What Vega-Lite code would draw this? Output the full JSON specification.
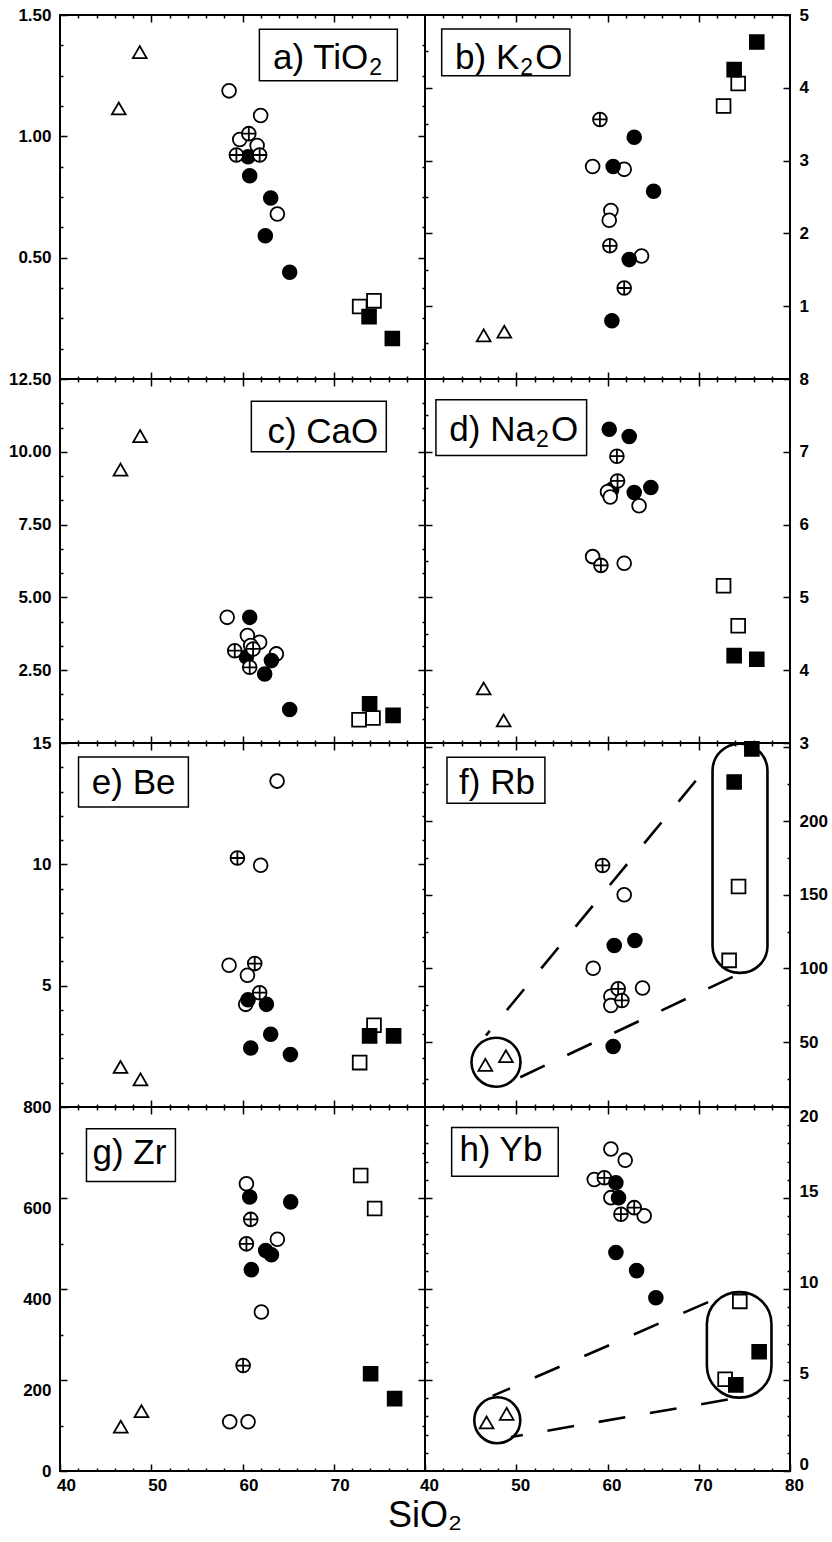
{
"$schema":"https://vega.github.io/schema/vega-lite/v6.json",
"padding":{"left":7,"top":5,"right":0,"bottom":0},
"background":"white",
"title":{"text":"SiO₂","orient":"bottom","anchor":"middle","fontSize":36,"fontWeight":"normal","font":"Liberation Sans","color":"black","offset":1,"dx":7},
"config":{
 "font":"Liberation Sans",
 "view":{"stroke":"black","strokeWidth":2},
 "axis":{"labelFont":"Liberation Sans","labelFontSize":17,"labelFontWeight":"bold","labelColor":"black","tickColor":"black","tickWidth":1.5,"domain":false,"grid":false,"labelPadding":16,"labelFlush":false,"labelOverlap":false}
},
"datasets":{"pts":[
{"p":"a","x":46.44,"y":1.115,"t":"tri"},{"p":"a","x":48.74,"y":1.347,"t":"tri"},
{"p":"a","x":58.53,"y":1.1875,"t":"oc"},{"p":"a","x":61.99,"y":1.086,"t":"oc"},{"p":"a","x":63.82,"y":0.68,"t":"oc"},{"p":"a","x":59.7,"y":0.987,"t":"oc"},{"p":"a","x":61.6,"y":0.962,"t":"oc"},
{"p":"a","x":60.61,"y":0.916,"t":"fc"},{"p":"a","x":60.79,"y":0.8375,"t":"fc"},{"p":"a","x":63.09,"y":0.746,"t":"fc"},{"p":"a","x":62.5,"y":0.59,"t":"fc"},{"p":"a","x":65.17,"y":0.44,"t":"fc"},
{"p":"a","x":60.69,"y":1.011,"t":"pc"},{"p":"a","x":59.33,"y":0.923,"t":"pc"},{"p":"a","x":61.88,"y":0.923,"t":"pc"},
{"p":"a","x":72.84,"y":0.299,"t":"os"},{"p":"a","x":74.41,"y":0.322,"t":"os"},
{"p":"a","x":73.87,"y":0.257,"t":"fs"},{"p":"a","x":76.42,"y":0.167,"t":"fs"},

{"p":"b","x":46.43,"y":0.6,"t":"tri"},{"p":"b","x":48.69,"y":0.65,"t":"tri"},
{"p":"b","x":58.37,"y":2.92,"t":"oc"},{"p":"b","x":61.83,"y":2.88,"t":"oc"},{"p":"b","x":60.37,"y":2.315,"t":"oc"},{"p":"b","x":60.19,"y":2.18,"t":"oc"},{"p":"b","x":63.73,"y":1.69,"t":"oc"},
{"p":"b","x":62.93,"y":3.32,"t":"fc"},{"p":"b","x":60.62,"y":2.92,"t":"fc"},{"p":"b","x":65.05,"y":2.58,"t":"fc"},{"p":"b","x":62.38,"y":1.64,"t":"fc"},{"p":"b","x":60.48,"y":0.8,"t":"fc"},
{"p":"b","x":59.17,"y":3.565,"t":"pc"},{"p":"b","x":60.26,"y":1.83,"t":"pc"},{"p":"b","x":61.83,"y":1.25,"t":"pc"},
{"p":"b","x":72.72,"y":3.75,"t":"os"},{"p":"b","x":74.32,"y":4.06,"t":"os"},
{"p":"b","x":73.88,"y":4.25,"t":"fs"},{"p":"b","x":76.36,"y":4.63,"t":"fs"},

{"p":"c","x":46.63,"y":9.39,"t":"tri"},{"p":"c","x":48.78,"y":10.54,"t":"tri"},
{"p":"c","x":58.32,"y":4.315,"t":"oc"},{"p":"c","x":60.54,"y":3.69,"t":"oc"},{"p":"c","x":61.88,"y":3.46,"t":"oc"},{"p":"c","x":63.71,"y":3.06,"t":"oc"},{"p":"c","x":60.9,"y":3.35,"t":"oc"},
{"p":"c","x":60.79,"y":4.315,"t":"fc"},{"p":"c","x":60.43,"y":2.95,"t":"fc"},{"p":"c","x":63.17,"y":2.83,"t":"fc"},{"p":"c","x":62.43,"y":2.37,"t":"fc"},{"p":"c","x":65.17,"y":1.15,"t":"fc"},
{"p":"c","x":59.15,"y":3.17,"t":"pc"},{"p":"c","x":61.16,"y":3.23,"t":"pc"},{"p":"c","x":60.79,"y":2.6,"t":"pc"},
{"p":"c","x":72.77,"y":0.8,"t":"os"},{"p":"c","x":74.3,"y":0.86,"t":"os"},
{"p":"c","x":73.93,"y":1.35,"t":"fs"},{"p":"c","x":76.5,"y":0.95,"t":"fs"},

{"p":"d","x":46.43,"y":3.75,"t":"tri"},{"p":"d","x":48.62,"y":3.31,"t":"tri"},
{"p":"d","x":60.45,"y":6.48,"t":"fc"},{"p":"d","x":60.19,"y":7.31,"t":"fc"},{"p":"d","x":62.38,"y":7.21,"t":"fc"},{"p":"d","x":62.93,"y":6.44,"t":"fc"},{"p":"d","x":64.75,"y":6.51,"t":"fc"},
{"p":"d","x":60.0,"y":6.45,"t":"oc"},{"p":"d","x":60.3,"y":6.38,"t":"oc"},{"p":"d","x":63.46,"y":6.26,"t":"oc"},{"p":"d","x":58.37,"y":5.56,"t":"oc"},{"p":"d","x":61.83,"y":5.47,"t":"oc"},
{"p":"d","x":61.03,"y":6.94,"t":"pc"},{"p":"d","x":61.1,"y":6.6,"t":"pc"},{"p":"d","x":59.28,"y":5.44,"t":"pc"},
{"p":"d","x":72.72,"y":5.16,"t":"os"},{"p":"d","x":74.32,"y":4.61,"t":"os"},
{"p":"d","x":73.88,"y":4.2,"t":"fs"},{"p":"d","x":76.36,"y":4.15,"t":"fs"},

{"p":"e","x":46.63,"y":1.65,"t":"tri"},{"p":"e","x":48.82,"y":1.14,"t":"tri"},
{"p":"e","x":63.79,"y":13.43,"t":"oc"},{"p":"e","x":61.99,"y":9.96,"t":"oc"},{"p":"e","x":58.53,"y":5.84,"t":"oc"},{"p":"e","x":60.54,"y":5.43,"t":"oc"},{"p":"e","x":60.35,"y":4.23,"t":"oc"},
{"p":"e","x":60.61,"y":4.42,"t":"fc"},{"p":"e","x":62.62,"y":4.23,"t":"fc"},{"p":"e","x":63.09,"y":3.0,"t":"fc"},{"p":"e","x":60.9,"y":2.43,"t":"fc"},{"p":"e","x":65.25,"y":2.16,"t":"fc"},
{"p":"e","x":59.44,"y":10.26,"t":"pc"},{"p":"e","x":61.34,"y":5.91,"t":"pc"},{"p":"e","x":61.88,"y":4.71,"t":"pc"},
{"p":"e","x":74.41,"y":3.37,"t":"os"},{"p":"e","x":72.84,"y":1.83,"t":"os"},
{"p":"e","x":73.93,"y":2.93,"t":"fs"},{"p":"e","x":76.56,"y":2.93,"t":"fs"},

{"p":"f","x":46.61,"y":34.6,"t":"tri"},{"p":"f","x":48.87,"y":40.5,"t":"tri"},
{"p":"f","x":61.83,"y":150,"t":"oc"},{"p":"f","x":58.43,"y":100.2,"t":"oc"},{"p":"f","x":63.84,"y":86.7,"t":"oc"},{"p":"f","x":60.37,"y":81.2,"t":"oc"},{"p":"f","x":60.37,"y":74.9,"t":"oc"},
{"p":"f","x":60.74,"y":115.6,"t":"fc"},{"p":"f","x":63.0,"y":119,"t":"fc"},{"p":"f","x":60.62,"y":47.1,"t":"fc"},
{"p":"f","x":59.46,"y":169.9,"t":"pc"},{"p":"f","x":61.17,"y":86.2,"t":"pc"},{"p":"f","x":61.58,"y":78.3,"t":"pc"},
{"p":"f","x":74.36,"y":155.6,"t":"os"},{"p":"f","x":73.33,"y":105.5,"t":"os"},
{"p":"f","x":73.88,"y":226.5,"t":"fs"},{"p":"f","x":75.82,"y":249,"t":"fs"},

{"p":"g","x":46.66,"y":97.4,"t":"tri"},{"p":"g","x":48.93,"y":131.5,"t":"tri"},
{"p":"g","x":60.43,"y":631.5,"t":"oc"},{"p":"g","x":63.82,"y":509.4,"t":"oc"},{"p":"g","x":62.07,"y":349.5,"t":"oc"},{"p":"g","x":58.6,"y":108.3,"t":"oc"},{"p":"g","x":60.61,"y":108.3,"t":"oc"},
{"p":"g","x":60.79,"y":602.3,"t":"fc"},{"p":"g","x":65.28,"y":591.4,"t":"fc"},{"p":"g","x":62.54,"y":484.6,"t":"fc"},{"p":"g","x":63.17,"y":475.2,"t":"fc"},{"p":"g","x":60.97,"y":442.5,"t":"fc"},
{"p":"g","x":60.9,"y":553,"t":"pc"},{"p":"g","x":60.43,"y":499.2,"t":"pc"},{"p":"g","x":60.07,"y":231.7,"t":"pc"},
{"p":"g","x":72.95,"y":649.6,"t":"os"},{"p":"g","x":74.48,"y":577,"t":"os"},
{"p":"g","x":74.04,"y":213.6,"t":"fs"},{"p":"g","x":76.67,"y":159.1,"t":"fs"},

{"p":"h","x":46.75,"y":2.67,"t":"tri"},{"p":"h","x":48.95,"y":3.14,"t":"tri"},
{"p":"h","x":60.37,"y":17.69,"t":"oc"},{"p":"h","x":61.94,"y":17.08,"t":"oc"},{"p":"h","x":58.55,"y":16.02,"t":"oc"},{"p":"h","x":60.37,"y":15.02,"t":"oc"},{"p":"h","x":64.02,"y":14.02,"t":"oc"},
{"p":"h","x":59.65,"y":16.11,"t":"pc"},{"p":"h","x":62.93,"y":14.47,"t":"pc"},{"p":"h","x":61.47,"y":14.11,"t":"pc"},
{"p":"h","x":60.92,"y":15.84,"t":"fc"},{"p":"h","x":61.21,"y":15.02,"t":"fc"},{"p":"h","x":60.92,"y":12.01,"t":"fc"},{"p":"h","x":63.19,"y":11.01,"t":"fc"},{"p":"h","x":65.3,"y":9.52,"t":"fc"},
{"p":"h","x":74.5,"y":9.32,"t":"os"},{"p":"h","x":72.89,"y":5.04,"t":"os"},
{"p":"h","x":76.62,"y":6.55,"t":"fs"},{"p":"h","x":74.06,"y":4.73,"t":"fs"}
]},
"columns":2,
"spacing":0,
"bounds":"flush",
"resolve":{"scale":{"x":"independent","y":"independent"}},
"concat":[
{
 "width":365,"height":364,
 "data":{"name":"pts"},"transform":[{"filter":"datum.p==='a'"}],
 "resolve":{"axis":{"x":"independent","y":"independent"}},
 "layer":[
  {"mark":{"type":"point","opacity":0},
   "encoding":{
    "x":{"field":"x","type":"quantitative","scale":{"domain":[40,80],"nice":false,"zero":false},"axis":{"orient":"top","title":null,"labels":false,"values":[42,44,46,48,50,52,54,56,58,60,62,64,66,68,70,72,74,76,78],"tickSize":{"condition":{"test":"datum.value % 10 === 0","value":-7},"value":-3}}},
    "y":{"field":"y","type":"quantitative","scale":{"domain":[0,1.5],"nice":false,"zero":false},"axis":{"orient":"right","title":null,"labels":false,"values":[0.125,0.25,0.375,0.5,0.625,0.75,0.875,1,1.125,1.25,1.375],"tickSize":{"condition":{"test":"abs(datum.value*2-round(datum.value*2))<0.001","value":-7},"value":-3}}}
   }},
  {"mark":{"type":"point","filled":true,"size":190,"stroke":"black","strokeWidth":1.8,"opacity":1},
   "encoding":{
    "x":{"field":"x","type":"quantitative","scale":{"domain":[40,80],"nice":false,"zero":false},"axis":{"orient":"bottom","title":null,"labels":false,"values":[42,44,46,48,50,52,54,56,58,60,62,64,66,68,70,72,74,76,78],"tickSize":{"condition":{"test":"datum.value % 10 === 0","value":-7},"value":-3}}},
    "y":{"field":"y","type":"quantitative","scale":{"domain":[0,1.5],"nice":false,"zero":false},"axis":{"orient":"left","title":null,"format":".2f","values":[0.125,0.25,0.375,0.5,0.625,0.75,0.875,1,1.125,1.25,1.375,1.5],"labelExpr":"abs(datum.value*2-round(datum.value*2))<0.001 ? datum.label : ''","tickSize":{"condition":{"test":"abs(datum.value*2-round(datum.value*2))<0.001","value":-7},"value":-3}}},
    "shape":{"field":"t","type":"nominal","legend":null,"scale":{"domain":["tri","oc","pc","fc","os","fs"],"range":["triangle-up","circle","M-1,0A1,1,0,1,0,1,0A1,1,0,1,0,-1,0ZM-1,0L1,0M0,-1L0,1","circle","square","square"]}},
    "fill":{"field":"t","type":"nominal","legend":null,"scale":{"domain":["tri","oc","pc","fc","os","fs"],"range":["white","white","white","black","white","black"]}}
   }},
  {"data":{"values":[{}]},"mark":{"type":"rect","fill":"white","stroke":"black","strokeWidth":1.5},
   "encoding":{"x":{"datum":61.85,"type":"quantitative","axis":null},"x2":{"datum":76.97},"y":{"datum":1.4417,"type":"quantitative","axis":null},"y2":{"datum":1.229}}},
  {"data":{"values":[{}]},"mark":{"type":"text","text":"a) TiO","fontSize":35,"align":"right","baseline":"alphabetic","color":"black"},
   "encoding":{"x":{"datum":73.79,"type":"quantitative","axis":null},"y":{"datum":1.278,"type":"quantitative","axis":null}}},
  {"data":{"values":[{}]},"mark":{"type":"text","text":"2","fontSize":23,"align":"left","baseline":"alphabetic","dx":1,"dy":6,"color":"black"},
   "encoding":{"x":{"datum":73.79,"type":"quantitative","axis":null},"y":{"datum":1.278,"type":"quantitative","axis":null}}}
 ]
},
{
 "width":365,"height":364,
 "data":{"name":"pts"},"transform":[{"filter":"datum.p==='b'"}],
 "resolve":{"axis":{"x":"independent","y":"independent"}},
 "layer":[
  {"mark":{"type":"point","opacity":0},
   "encoding":{
    "x":{"field":"x","type":"quantitative","scale":{"domain":[40,80],"nice":false,"zero":false},"axis":{"orient":"top","title":null,"labels":false,"values":[42,44,46,48,50,52,54,56,58,60,62,64,66,68,70,72,74,76,78],"tickSize":{"condition":{"test":"datum.value % 10 === 0","value":-7},"value":-3}}},
    "y":{"field":"y","type":"quantitative","scale":{"domain":[0,5],"nice":false,"zero":false},"axis":{"orient":"left","title":null,"labels":false,"values":[0.5,1,1.5,2,2.5,3,3.5,4,4.5],"tickSize":{"condition":{"test":"abs(datum.value-round(datum.value))<0.001","value":-7},"value":-3}}}
   }},
  {"mark":{"type":"point","filled":true,"size":190,"stroke":"black","strokeWidth":1.8,"opacity":1},
   "encoding":{
    "x":{"field":"x","type":"quantitative","scale":{"domain":[40,80],"nice":false,"zero":false},"axis":{"orient":"bottom","title":null,"labels":false,"values":[42,44,46,48,50,52,54,56,58,60,62,64,66,68,70,72,74,76,78],"tickSize":{"condition":{"test":"datum.value % 10 === 0","value":-7},"value":-3}}},
    "y":{"field":"y","type":"quantitative","scale":{"domain":[0,5],"nice":false,"zero":false},"axis":{"orient":"right","title":null,"values":[1,2,3,4,5],"tickSize":-7,"labels":true}},
    "shape":{"field":"t","type":"nominal","legend":null,"scale":{"domain":["tri","oc","pc","fc","os","fs"],"range":["triangle-up","circle","M-1,0A1,1,0,1,0,1,0A1,1,0,1,0,-1,0ZM-1,0L1,0M0,-1L0,1","circle","square","square"]}},
    "fill":{"field":"t","type":"nominal","legend":null,"scale":{"domain":["tri","oc","pc","fc","os","fs"],"range":["white","white","white","black","white","black"]}}
   }},
  {"data":{"values":[{}]},"mark":{"type":"rect","fill":"white","stroke":"black","strokeWidth":1.5},
   "encoding":{"x":{"datum":41.83,"type":"quantitative","axis":null},"x2":{"datum":55.88},"y":{"datum":4.806,"type":"quantitative","axis":null},"y2":{"datum":4.167}}},
  {"data":{"values":[{}]},"mark":{"type":"text","text":"b) K","fontSize":35,"align":"right","baseline":"alphabetic","color":"black"},
   "encoding":{"x":{"datum":50.33,"type":"quantitative","axis":null},"y":{"datum":4.26,"type":"quantitative","axis":null}}},
  {"data":{"values":[{}]},"mark":{"type":"text","text":"2","fontSize":23,"align":"left","baseline":"alphabetic","dx":1,"dy":6,"color":"black"},
   "encoding":{"x":{"datum":50.33,"type":"quantitative","axis":null},"y":{"datum":4.26,"type":"quantitative","axis":null}}},
  {"data":{"values":[{}]},"mark":{"type":"text","text":"O","fontSize":35,"align":"left","baseline":"alphabetic","dx":16,"color":"black"},
   "encoding":{"x":{"datum":50.33,"type":"quantitative","axis":null},"y":{"datum":4.26,"type":"quantitative","axis":null}}}
 ]
},
{
 "width":365,"height":364,
 "data":{"name":"pts"},"transform":[{"filter":"datum.p==='c'"}],
 "resolve":{"axis":{"x":"independent","y":"independent"}},
 "layer":[
  {"mark":{"type":"point","opacity":0},
   "encoding":{
    "x":{"field":"x","type":"quantitative","scale":{"domain":[40,80],"nice":false,"zero":false},"axis":{"orient":"top","title":null,"labels":false,"values":[42,44,46,48,50,52,54,56,58,60,62,64,66,68,70,72,74,76,78],"tickSize":{"condition":{"test":"datum.value % 10 === 0","value":-7},"value":-3}}},
    "y":{"field":"y","type":"quantitative","scale":{"domain":[0,12.5],"nice":false,"zero":false},"axis":{"orient":"right","title":null,"labels":false,"values":[0.8333,1.6667,2.5,3.3333,4.1667,5,5.8333,6.6667,7.5,8.3333,9.1667,10,10.8333,11.6667],"tickSize":{"condition":{"test":"abs(datum.value/2.5-round(datum.value/2.5))<0.001","value":-7},"value":-3}}}
   }},
  {"mark":{"type":"point","filled":true,"size":190,"stroke":"black","strokeWidth":1.8,"opacity":1},
   "encoding":{
    "x":{"field":"x","type":"quantitative","scale":{"domain":[40,80],"nice":false,"zero":false},"axis":{"orient":"bottom","title":null,"labels":false,"values":[42,44,46,48,50,52,54,56,58,60,62,64,66,68,70,72,74,76,78],"tickSize":{"condition":{"test":"datum.value % 10 === 0","value":-7},"value":-3}}},
    "y":{"field":"y","type":"quantitative","scale":{"domain":[0,12.5],"nice":false,"zero":false},"axis":{"orient":"left","title":null,"format":".2f","values":[0.8333,1.6667,2.5,3.3333,4.1667,5,5.8333,6.6667,7.5,8.3333,9.1667,10,10.8333,11.6667,12.5],"labelExpr":"abs(datum.value/2.5-round(datum.value/2.5))<0.001 ? datum.label : ''","tickSize":{"condition":{"test":"abs(datum.value/2.5-round(datum.value/2.5))<0.001","value":-7},"value":-3}}},
    "shape":{"field":"t","type":"nominal","legend":null,"scale":{"domain":["tri","oc","pc","fc","os","fs"],"range":["triangle-up","circle","M-1,0A1,1,0,1,0,1,0A1,1,0,1,0,-1,0ZM-1,0L1,0M0,-1L0,1","circle","square","square"]}},
    "fill":{"field":"t","type":"nominal","legend":null,"scale":{"domain":["tri","oc","pc","fc","os","fs"],"range":["white","white","white","black","white","black"]}}
   }},
  {"data":{"values":[{}]},"mark":{"type":"rect","fill":"white","stroke":"black","strokeWidth":1.5},
   "encoding":{"x":{"datum":60.97,"type":"quantitative","axis":null},"x2":{"datum":75.76},"y":{"datum":11.736,"type":"quantitative","axis":null},"y2":{"datum":10.0}}},
  {"data":{"values":[{}]},"mark":{"type":"text","text":"c) CaO","fontSize":35,"align":"center","baseline":"alphabetic","color":"black"},
   "encoding":{"x":{"datum":68.8,"type":"quantitative","axis":null},"y":{"datum":10.31,"type":"quantitative","axis":null}}}
 ]
},
{
 "width":365,"height":364,
 "data":{"name":"pts"},"transform":[{"filter":"datum.p==='d'"}],
 "resolve":{"axis":{"x":"independent","y":"independent"}},
 "layer":[
  {"mark":{"type":"point","opacity":0},
   "encoding":{
    "x":{"field":"x","type":"quantitative","scale":{"domain":[40,80],"nice":false,"zero":false},"axis":{"orient":"top","title":null,"labels":false,"values":[42,44,46,48,50,52,54,56,58,60,62,64,66,68,70,72,74,76,78],"tickSize":{"condition":{"test":"datum.value % 10 === 0","value":-7},"value":-3}}},
    "y":{"field":"y","type":"quantitative","scale":{"domain":[3,8],"nice":false,"zero":false},"axis":{"orient":"left","title":null,"labels":false,"values":[3.5,4,4.5,5,5.5,6,6.5,7,7.5],"tickSize":{"condition":{"test":"abs(datum.value-round(datum.value))<0.001","value":-7},"value":-3}}}
   }},
  {"mark":{"type":"point","filled":true,"size":190,"stroke":"black","strokeWidth":1.8,"opacity":1},
   "encoding":{
    "x":{"field":"x","type":"quantitative","scale":{"domain":[40,80],"nice":false,"zero":false},"axis":{"orient":"bottom","title":null,"labels":false,"values":[42,44,46,48,50,52,54,56,58,60,62,64,66,68,70,72,74,76,78],"tickSize":{"condition":{"test":"datum.value % 10 === 0","value":-7},"value":-3}}},
    "y":{"field":"y","type":"quantitative","scale":{"domain":[3,8],"nice":false,"zero":false},"axis":{"orient":"right","title":null,"format":"d","values":[3,3.5,4,4.5,5,5.5,6,6.5,7,7.5,8],"labelExpr":"abs(datum.value-round(datum.value))<0.001 ? datum.label : ''","tickSize":{"condition":{"test":"abs(datum.value-round(datum.value))<0.001","value":-7},"value":-3}}},
    "shape":{"field":"t","type":"nominal","legend":null,"scale":{"domain":["tri","oc","pc","fc","os","fs"],"range":["triangle-up","circle","M-1,0A1,1,0,1,0,1,0A1,1,0,1,0,-1,0ZM-1,0L1,0M0,-1L0,1","circle","square","square"]}},
    "fill":{"field":"t","type":"nominal","legend":null,"scale":{"domain":["tri","oc","pc","fc","os","fs"],"range":["white","white","white","black","white","black"]}}
   }},
  {"data":{"values":[{}]},"mark":{"type":"rect","fill":"white","stroke":"black","strokeWidth":1.5},
   "encoding":{"x":{"datum":41.2,"type":"quantitative","axis":null},"x2":{"datum":57.71},"y":{"datum":7.716,"type":"quantitative","axis":null},"y2":{"datum":6.949}}},
  {"data":{"values":[{}]},"mark":{"type":"text","text":"d) Na","fontSize":35,"align":"right","baseline":"alphabetic","color":"black"},
   "encoding":{"x":{"datum":52.05,"type":"quantitative","axis":null},"y":{"datum":7.147,"type":"quantitative","axis":null}}},
  {"data":{"values":[{}]},"mark":{"type":"text","text":"2","fontSize":23,"align":"left","baseline":"alphabetic","dx":1,"dy":6,"color":"black"},
   "encoding":{"x":{"datum":52.05,"type":"quantitative","axis":null},"y":{"datum":7.147,"type":"quantitative","axis":null}}},
  {"data":{"values":[{}]},"mark":{"type":"text","text":"O","fontSize":35,"align":"left","baseline":"alphabetic","dx":16,"color":"black"},
   "encoding":{"x":{"datum":52.05,"type":"quantitative","axis":null},"y":{"datum":7.147,"type":"quantitative","axis":null}}}
 ]
},
{
 "width":365,"height":364,
 "data":{"name":"pts"},"transform":[{"filter":"datum.p==='e'"}],
 "resolve":{"axis":{"x":"independent","y":"independent"}},
 "layer":[
  {"mark":{"type":"point","opacity":0},
   "encoding":{
    "x":{"field":"x","type":"quantitative","scale":{"domain":[40,80],"nice":false,"zero":false},"axis":{"orient":"top","title":null,"labels":false,"values":[42,44,46,48,50,52,54,56,58,60,62,64,66,68,70,72,74,76,78],"tickSize":{"condition":{"test":"datum.value % 10 === 0","value":-7},"value":-3}}},
    "y":{"field":"y","type":"quantitative","scale":{"domain":[0,15],"nice":false,"zero":false},"axis":{"orient":"right","title":null,"labels":false,"values":[1,2,3,4,5,6,7,8,9,10,11,12,13,14],"tickSize":{"condition":{"test":"datum.value % 5 === 0","value":-7},"value":-3}}}
   }},
  {"mark":{"type":"point","filled":true,"size":190,"stroke":"black","strokeWidth":1.8,"opacity":1},
   "encoding":{
    "x":{"field":"x","type":"quantitative","scale":{"domain":[40,80],"nice":false,"zero":false},"axis":{"orient":"bottom","title":null,"labels":false,"values":[42,44,46,48,50,52,54,56,58,60,62,64,66,68,70,72,74,76,78],"tickSize":{"condition":{"test":"datum.value % 10 === 0","value":-7},"value":-3}}},
    "y":{"field":"y","type":"quantitative","scale":{"domain":[0,15],"nice":false,"zero":false},"axis":{"orient":"left","title":null,"format":"d","values":[1,2,3,4,5,6,7,8,9,10,11,12,13,14,15],"labelExpr":"datum.value % 5 === 0 ? datum.label : ''","tickSize":{"condition":{"test":"datum.value % 5 === 0","value":-7},"value":-3}}},
    "shape":{"field":"t","type":"nominal","legend":null,"scale":{"domain":["tri","oc","pc","fc","os","fs"],"range":["triangle-up","circle","M-1,0A1,1,0,1,0,1,0A1,1,0,1,0,-1,0ZM-1,0L1,0M0,-1L0,1","circle","square","square"]}},
    "fill":{"field":"t","type":"nominal","legend":null,"scale":{"domain":["tri","oc","pc","fc","os","fs"],"range":["white","white","white","black","white","black"]}}
   }},
  {"data":{"values":[{}]},"mark":{"type":"rect","fill":"white","stroke":"black","strokeWidth":1.5},
   "encoding":{"x":{"datum":42.03,"type":"quantitative","axis":null},"x2":{"datum":54.07},"y":{"datum":14.423,"type":"quantitative","axis":null},"y2":{"datum":12.363}}},
  {"data":{"values":[{}]},"mark":{"type":"text","text":"e) Be","fontSize":35,"align":"center","baseline":"alphabetic","color":"black"},
   "encoding":{"x":{"datum":48.07,"type":"quantitative","axis":null},"y":{"datum":12.91,"type":"quantitative","axis":null}}}
 ]
},
{
 "width":365,"height":364,
 "data":{"name":"pts"},"transform":[{"filter":"datum.p==='f'"}],
 "resolve":{"axis":{"x":"independent","y":"independent"}},
 "layer":[
  {"mark":{"type":"point","opacity":0},
   "encoding":{
    "x":{"field":"x","type":"quantitative","scale":{"domain":[40,80],"nice":false,"zero":false},"axis":{"orient":"top","title":null,"labels":false,"values":[42,44,46,48,50,52,54,56,58,60,62,64,66,68,70,72,74,76,78],"tickSize":{"condition":{"test":"datum.value % 10 === 0","value":-7},"value":-3}}},
    "y":{"field":"y","type":"quantitative","scale":{"domain":[6,253],"nice":false,"zero":false},"axis":{"orient":"left","title":null,"labels":false,"values":[25,50,75,100,125,150,175,200,225,250],"tickSize":{"condition":{"test":"datum.value % 50 === 0","value":-7},"value":-3}}}
   }},
  {"data":{"values":[{"s":"u","x":46.68,"y":54.5},{"s":"u","x":71.51,"y":241.2}]},
   "mark":{"type":"line","stroke":"black","strokeWidth":2.6,"strokeDash":[27,27],"strokeDashOffset":21},
   "encoding":{"x":{"field":"x","type":"quantitative","axis":null},"y":{"field":"y","type":"quantitative","axis":null}}},
  {"data":{"values":[{"s":"l","x":50.44,"y":26.2},{"s":"l","x":74.43,"y":96.4}]},
   "mark":{"type":"line","stroke":"black","strokeWidth":2.6,"strokeDash":[27,25],"strokeDashOffset":0},
   "encoding":{"x":{"field":"x","type":"quantitative","axis":null},"y":{"field":"y","type":"quantitative","axis":null}}},
  {"data":{"values":[{}]},"mark":{"type":"point","shape":"circle","size":2401,"filled":false,"stroke":"black","strokeWidth":2.6,"opacity":1},
   "encoding":{"x":{"datum":47.78,"type":"quantitative","axis":null},"y":{"datum":36.4,"type":"quantitative","axis":null}}},
  {"data":{"values":[{}]},"mark":{"type":"rect","filled":false,"stroke":"black","strokeWidth":2.6,"cornerRadius":27},
   "encoding":{"x":{"datum":71.51,"type":"quantitative","axis":null},"x2":{"datum":77.53},"y":{"datum":252.5,"type":"quantitative","axis":null},"y2":{"datum":97}}},
  {"mark":{"type":"point","filled":true,"size":190,"stroke":"black","strokeWidth":1.8,"opacity":1},
   "encoding":{
    "x":{"field":"x","type":"quantitative","scale":{"domain":[40,80],"nice":false,"zero":false},"axis":{"orient":"bottom","title":null,"labels":false,"values":[42,44,46,48,50,52,54,56,58,60,62,64,66,68,70,72,74,76,78],"tickSize":{"condition":{"test":"datum.value % 10 === 0","value":-7},"value":-3}}},
    "y":{"field":"y","type":"quantitative","scale":{"domain":[6,253],"nice":false,"zero":false},"axis":{"orient":"right","title":null,"format":"d","values":[25,50,75,100,125,150,175,200,225,250],"labelExpr":"datum.value % 50 === 0 && datum.value < 250 ? datum.label : ''","tickSize":{"condition":{"test":"datum.value % 50 === 0","value":-7},"value":-3}}},
    "shape":{"field":"t","type":"nominal","legend":null,"scale":{"domain":["tri","oc","pc","fc","os","fs"],"range":["triangle-up","circle","M-1,0A1,1,0,1,0,1,0A1,1,0,1,0,-1,0ZM-1,0L1,0M0,-1L0,1","circle","square","square"]}},
    "fill":{"field":"t","type":"nominal","legend":null,"scale":{"domain":["tri","oc","pc","fc","os","fs"],"range":["white","white","white","black","white","black"]}}
   }},
  {"data":{"values":[{}]},"mark":{"type":"rect","fill":"white","stroke":"black","strokeWidth":1.5},
   "encoding":{"x":{"datum":42.41,"type":"quantitative","axis":null},"x2":{"datum":53.14},"y":{"datum":243.4,"type":"quantitative","axis":null},"y2":{"datum":212.2}}},
  {"data":{"values":[{}]},"mark":{"type":"text","text":"f) Rb","fontSize":35,"align":"center","baseline":"alphabetic","color":"black"},
   "encoding":{"x":{"datum":47.89,"type":"quantitative","axis":null},"y":{"datum":218.5,"type":"quantitative","axis":null}}}
 ]
},
{
 "width":365,"height":364,
 "data":{"name":"pts"},"transform":[{"filter":"datum.p==='g'"}],
 "resolve":{"axis":{"x":"independent","y":"independent"}},
 "layer":[
  {"mark":{"type":"point","opacity":0},
   "encoding":{
    "x":{"field":"x","type":"quantitative","scale":{"domain":[40,80],"nice":false,"zero":false},"axis":{"orient":"top","title":null,"labels":false,"values":[42,44,46,48,50,52,54,56,58,60,62,64,66,68,70,72,74,76,78],"tickSize":{"condition":{"test":"datum.value % 10 === 0","value":-7},"value":-3}}},
    "y":{"field":"y","type":"quantitative","scale":{"domain":[0,800],"nice":false,"zero":false},"axis":{"orient":"right","title":null,"labels":false,"values":[100,200,300,400,500,600,700],"tickSize":{"condition":{"test":"datum.value % 200 === 0","value":-7},"value":-3}}}
   }},
  {"mark":{"type":"point","filled":true,"size":190,"stroke":"black","strokeWidth":1.8,"opacity":1},
   "encoding":{
    "x":{"field":"x","type":"quantitative","scale":{"domain":[40,80],"nice":false,"zero":false},"axis":{"orient":"bottom","title":null,"labels":true,"format":"d","labelPadding":13,"labelOffset":6,"values":[40,42,44,46,48,50,52,54,56,58,60,62,64,66,68,70,72,74,76,78],"labelExpr":"datum.value % 10 === 0 ? datum.label : ''","tickSize":{"condition":{"test":"datum.value % 10 === 0","value":-7},"value":-3}}},
    "y":{"field":"y","type":"quantitative","scale":{"domain":[0,800],"nice":false,"zero":false},"axis":{"orient":"left","title":null,"format":"d","values":[0,100,200,300,400,500,600,700,800],"labelExpr":"datum.value % 200 === 0 ? datum.label : ''","labelOffset":{"condition":{"test":"datum.value > 0 && datum.value < 800","value":10},"value":0},"tickSize":{"condition":{"test":"datum.value % 200 === 0","value":-7},"value":-3}}},
    "shape":{"field":"t","type":"nominal","legend":null,"scale":{"domain":["tri","oc","pc","fc","os","fs"],"range":["triangle-up","circle","M-1,0A1,1,0,1,0,1,0A1,1,0,1,0,-1,0ZM-1,0L1,0M0,-1L0,1","circle","square","square"]}},
    "fill":{"field":"t","type":"nominal","legend":null,"scale":{"domain":["tri","oc","pc","fc","os","fs"],"range":["white","white","white","black","white","black"]}}
   }},
  {"data":{"values":[{}]},"mark":{"type":"rect","fill":"white","stroke":"black","strokeWidth":1.5},
   "encoding":{"x":{"datum":42.9,"type":"quantitative","axis":null},"x2":{"datum":52.65},"y":{"datum":752,"type":"quantitative","axis":null},"y2":{"datum":636.5}}},
  {"data":{"values":[{}]},"mark":{"type":"text","text":"g) Zr","fontSize":35,"align":"center","baseline":"alphabetic","color":"black"},
   "encoding":{"x":{"datum":47.6,"type":"quantitative","axis":null},"y":{"datum":675,"type":"quantitative","axis":null}}}
 ]
},
{
 "width":365,"height":364,
 "data":{"name":"pts"},"transform":[{"filter":"datum.p==='h'"}],
 "resolve":{"axis":{"x":"independent","y":"independent"}},
 "layer":[
  {"mark":{"type":"point","opacity":0},
   "encoding":{
    "x":{"field":"x","type":"quantitative","scale":{"domain":[40,80],"nice":false,"zero":false},"axis":{"orient":"top","title":null,"labels":false,"values":[42,44,46,48,50,52,54,56,58,60,62,64,66,68,70,72,74,76,78],"tickSize":{"condition":{"test":"datum.value % 10 === 0","value":-7},"value":-3}}},
    "y":{"field":"y","type":"quantitative","scale":{"domain":[0,20],"nice":false,"zero":false},"axis":{"orient":"left","title":null,"labels":false,"values":[1,2,3,4,5,6,7,8,9,10,11,12,13,14,15,16,17,18,19],"tickSize":{"condition":{"test":"datum.value % 5 === 0","value":-7},"value":-3}}}
   }},
  {"data":{"values":[{"s":"u","x":47.41,"y":4.126},{"s":"u","x":71.03,"y":9.28}]},
   "mark":{"type":"line","stroke":"black","strokeWidth":2.6,"strokeDash":[27,27],"strokeDashOffset":8},
   "encoding":{"x":{"field":"x","type":"quantitative","axis":null},"y":{"field":"y","type":"quantitative","axis":null}}},
  {"data":{"values":[{"s":"l","x":49.42,"y":1.87},{"s":"l","x":74.06,"y":4.0}]},
   "mark":{"type":"line","stroke":"black","strokeWidth":2.6,"strokeDash":[27,25],"strokeDashOffset":15},
   "encoding":{"x":{"field":"x","type":"quantitative","axis":null},"y":{"field":"y","type":"quantitative","axis":null}}},
  {"data":{"values":[{}]},"mark":{"type":"point","shape":"circle","size":2116,"filled":false,"stroke":"black","strokeWidth":2.6,"opacity":1},
   "encoding":{"x":{"datum":47.92,"type":"quantitative","axis":null},"y":{"datum":2.79,"type":"quantitative","axis":null}}},
  {"data":{"values":[{}]},"mark":{"type":"rect","filled":false,"stroke":"black","strokeWidth":2.6,"cornerRadius":32},
   "encoding":{"x":{"datum":70.89,"type":"quantitative","axis":null},"x2":{"datum":77.97},"y":{"datum":9.83,"type":"quantitative","axis":null},"y2":{"datum":4.03}}},
  {"mark":{"type":"point","filled":true,"size":190,"stroke":"black","strokeWidth":1.8,"opacity":1},
   "encoding":{
    "x":{"field":"x","type":"quantitative","scale":{"domain":[40,80],"nice":false,"zero":false},"axis":{"orient":"bottom","title":null,"labels":true,"format":"d","labelPadding":13,"labelOffset":4,"values":[40,42,44,46,48,50,52,54,56,58,60,62,64,66,68,70,72,74,76,78,80],"labelExpr":"datum.value % 10 === 0 ? datum.label : ''","tickSize":{"condition":{"test":"datum.value % 10 === 0","value":-7},"value":-3}}},
    "y":{"field":"y","type":"quantitative","scale":{"domain":[0,20],"nice":false,"zero":false},"axis":{"orient":"right","title":null,"format":"d","values":[0,1,2,3,4,5,6,7,8,9,10,11,12,13,14,15,16,17,18,19,20],"labelExpr":"datum.value % 5 === 0 ? datum.label : ''","labelOffset":{"condition":{"test":"datum.value === 20","value":9},"value":-7},"tickSize":{"condition":{"test":"datum.value % 5 === 0","value":-7},"value":-3}}},
    "shape":{"field":"t","type":"nominal","legend":null,"scale":{"domain":["tri","oc","pc","fc","os","fs"],"range":["triangle-up","circle","M-1,0A1,1,0,1,0,1,0A1,1,0,1,0,-1,0ZM-1,0L1,0M0,-1L0,1","circle","square","square"]}},
    "fill":{"field":"t","type":"nominal","legend":null,"scale":{"domain":["tri","oc","pc","fc","os","fs"],"range":["white","white","white","black","white","black"]}}
   }},
  {"data":{"values":[{}]},"mark":{"type":"rect","fill":"white","stroke":"black","strokeWidth":1.5},
   "encoding":{"x":{"datum":42.92,"type":"quantitative","axis":null},"x2":{"datum":54.6},"y":{"datum":18.88,"type":"quantitative","axis":null},"y2":{"datum":16.2}}},
  {"data":{"values":[{}]},"mark":{"type":"text","text":"h) Yb","fontSize":35,"align":"center","baseline":"alphabetic","color":"black"},
   "encoding":{"x":{"datum":48.32,"type":"quantitative","axis":null},"y":{"datum":17.02,"type":"quantitative","axis":null}}}
 ]
}
]
}
